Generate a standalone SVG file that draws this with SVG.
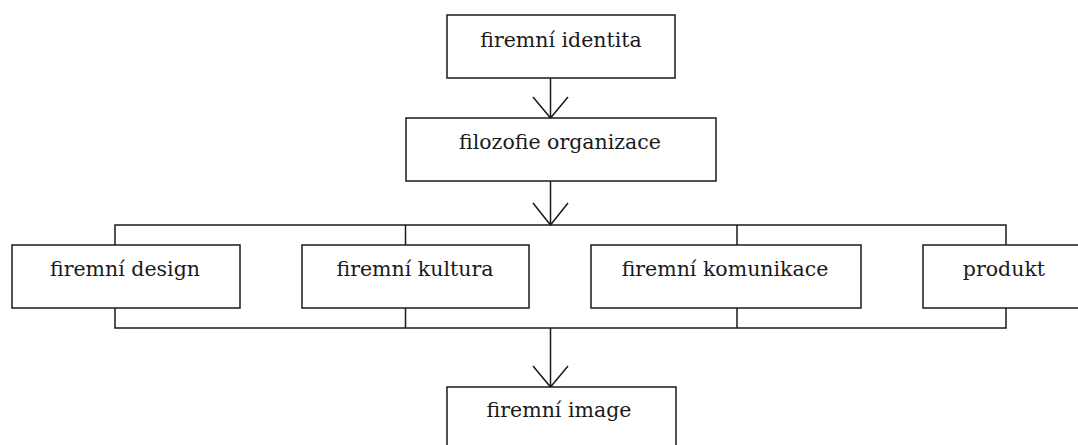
<svg xmlns="http://www.w3.org/2000/svg" width="1078" height="445" viewBox="0 0 1078 445">
<style>
.box{fill:#fff;stroke:#1a1a1a;stroke-width:1.5}
.ln{fill:none;stroke:#1a1a1a;stroke-width:1.5}
text{font-family:"DejaVu Serif","Liberation Serif",serif;font-size:20.5px;fill:#1a1a1a;text-anchor:middle}
</style>
<rect width="1078" height="445" fill="#fff"/>
<g id="connectors">
<path class="ln" d="M550.5,78 V118 M533,97 L550.5,118 L568,97"/>
<path class="ln" d="M550.5,181 V225 M533,203 L550.5,225 L568,203"/>
<path class="ln" d="M115,245 V225 H1006 V245 M405.5,225 V245 M737,225 V245"/>
<path class="ln" d="M115,308 V328 H1006 V308 M405.5,308 V328 M737,308 V328"/>
<path class="ln" d="M550.5,328 V387 M533,366 L550.5,387 L568,366"/>
</g>
<g id="identita"><rect class="box" x="447" y="15" width="228" height="63"/><text x="561" y="47">firemní identita</text></g>
<g id="filozofie"><rect class="box" x="406" y="118" width="310" height="63"/><text x="560" y="149">filozofie organizace</text></g>
<g id="design"><rect class="box" x="12" y="245" width="228" height="63"/><text x="125" y="276">firemní design</text></g>
<g id="kultura"><rect class="box" x="302" y="245" width="227" height="63"/><text x="415" y="276">firemní kultura</text></g>
<g id="komunikace"><rect class="box" x="591" y="245" width="270" height="63"/><text x="725" y="276">firemní komunikace</text></g>
<g id="produkt"><rect class="box" x="923" y="245" width="161" height="63"/><text x="1004" y="276">produkt</text></g>
<g id="image"><rect class="box" x="447" y="387" width="229" height="63"/><text x="559" y="417">firemní image</text></g>
</svg>
